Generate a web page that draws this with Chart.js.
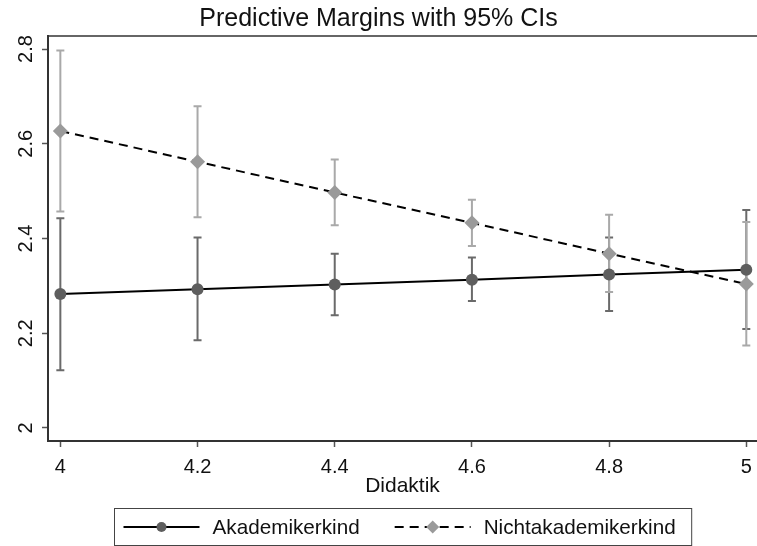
<!DOCTYPE html>
<html>
<head>
<meta charset="utf-8">
<script src="https://cdn.jsdelivr.net/npm/chart.js@4/dist/chart.umd.min.js"></script>
<style>
html,body{margin:0;padding:0;background:#fff;}
#wrap{width:757px;height:546px;position:relative;}
</style>
</head>
<body>
<div id="wrap"><canvas id="c" width="757" height="546"></canvas></div>
<script>
const didaktik = [4, 4.2, 4.4, 4.6, 4.8, 5];
const akadMean = [2.283, 2.293, 2.303, 2.313, 2.324, 2.334];
const akadLow  = [2.122, 2.185, 2.238, 2.268, 2.247, 2.209];
const akadHigh = [2.443, 2.402, 2.368, 2.360, 2.402, 2.460];
const nichtMean = [2.627, 2.562, 2.497, 2.433, 2.368, 2.304];
const nichtLow  = [2.457, 2.445, 2.428, 2.384, 2.287, 2.174];
const nichtHigh = [2.797, 2.679, 2.567, 2.482, 2.450, 2.435];
const xTicks = [4, 4.2, 4.4, 4.6, 4.8, 5];
const yTicks = [2, 2.2, 2.4, 2.6, 2.8];
const seriesLabels = ['Akademikerkind', 'Nichtakademikerkind'];
const titleText = 'Predictive Margins with 95% CIs';
const xTitle = 'Didaktik';

const FONT = "'Liberation Sans', Arial, sans-serif";
const akadCol = '#5e5e5e', akadCI = '#6a6a6a';
const nichtCol = '#9a9a9a', nichtCI = '#a9a9a9';

const ciPlugin = {
  id: 'ci',
  beforeDatasetsDraw(chart) {
    const {ctx, scales: {x, y}} = chart;
    const sets = [[akadLow, akadHigh, akadCI], [nichtLow, nichtHigh, nichtCI]];
    ctx.save();
    ctx.lineWidth = 2;
    sets.forEach(([lo, hi, col]) => {
      ctx.strokeStyle = col;
      didaktik.forEach((d, i) => {
        const px = x.getPixelForValue(d);
        const pl = y.getPixelForValue(lo[i]);
        const ph = y.getPixelForValue(hi[i]);
        ctx.beginPath();
        ctx.moveTo(px, pl); ctx.lineTo(px, ph);
        ctx.moveTo(px - 4, pl); ctx.lineTo(px + 4, pl);
        ctx.moveTo(px - 4, ph); ctx.lineTo(px + 4, ph);
        ctx.stroke();
      });
    });
    ctx.restore();
  },
  afterDraw(chart) {
    const {ctx, chartArea} = chart;
    ctx.save();
    ctx.strokeStyle = '#333';
    ctx.lineWidth = 1.5;
    ctx.beginPath();
    ctx.moveTo(chartArea.left, chartArea.top);
    ctx.lineTo(chartArea.right, chartArea.top);
    ctx.stroke();
    ctx.font = '20.7px ' + FONT;
    const w1 = ctx.measureText(seriesLabels[0]).width;
    const w2 = ctx.measureText(seriesLabels[1]).width;
    const sample = 76, padL = 9, gapT = 13, gapI = 35, padR = 16;
    const boxW = padL + sample + gapT + w1 + gapI + sample + gapT + w2 + padR;
    const cx = (chartArea.left + chartArea.right) / 2;
    const bx = Math.round(cx - boxW / 2) + 0.5;
    const by = 508.5, bh = 37;
    ctx.strokeStyle = '#444';
    ctx.lineWidth = 1;
    ctx.strokeRect(bx, by, boxW, bh);
    const my = by + bh / 2;
    const ds = chart.data.datasets;
    let xx = bx + padL;
    [[w1, 0], [w2, 1]].forEach(([tw, k]) => {
      const d = ds[k];
      ctx.strokeStyle = d.borderColor;
      ctx.lineWidth = 2;
      ctx.setLineDash(d.borderDash || []);
      ctx.beginPath();
      ctx.moveTo(xx, my); ctx.lineTo(xx + sample, my);
      ctx.stroke();
      ctx.setLineDash([]);
      const mx = xx + sample / 2;
      ctx.fillStyle = d.pointBackgroundColor;
      ctx.beginPath();
      if (k === 0) {
        ctx.arc(mx, my, 5, 0, Math.PI * 2);
      } else {
        ctx.moveTo(mx, my - 6.5); ctx.lineTo(mx + 6.5, my);
        ctx.lineTo(mx, my + 6.5); ctx.lineTo(mx - 6.5, my);
        ctx.closePath();
      }
      ctx.fill();
      ctx.fillStyle = '#111';
      ctx.textBaseline = 'middle';
      ctx.textAlign = 'left';
      ctx.fillText(d.label, xx + sample + gapT, my + 1);
      xx += sample + gapT + tw + gapI;
    });
    ctx.restore();
  }
};

new Chart(document.getElementById('c'), {
  type: 'line',
  data: {
    datasets: [
      {
        label: seriesLabels[0],
        data: didaktik.map((d, i) => ({x: d, y: akadMean[i]})),
        borderColor: '#000',
        borderWidth: 2,
        pointStyle: 'circle',
        pointRadius: 6,
        pointBorderWidth: 0,
        pointBackgroundColor: akadCol,
        pointBorderColor: akadCol,
        tension: 0
      },
      {
        label: seriesLabels[1],
        data: didaktik.map((d, i) => ({x: d, y: nichtMean[i]})),
        borderColor: '#000',
        borderWidth: 2,
        borderDash: [9, 6],
        pointStyle: 'rectRot',
        pointRadius: 7.5,
        pointBorderWidth: 0,
        pointBackgroundColor: nichtCol,
        pointBorderColor: nichtCol,
        tension: 0
      }
    ]
  },
  plugins: [ciPlugin],
  options: {
    responsive: false,
    animation: false,
    events: [],
    layout: {autoPadding: false, padding: {left: 0, right: 0, top: 0, bottom: 47}},
    plugins: {
      legend: {display: false},
      tooltip: {enabled: false},
      title: {
        display: true,
        text: titleText,
        color: '#111',
        font: {family: FONT, size: 25, weight: 'normal', lineHeight: 1.2},
        padding: {top: 4.5, bottom: 1.5}
      }
    },
    scales: {
      x: {
        type: 'linear',
        min: 3.982,
        max: 5.0156,
        afterBuildTicks(s) { s.ticks = xTicks.map(v => ({value: v})); },
        afterFit(s) { s.height = 58; s.paddingLeft = 0; s.paddingRight = 0; },
        grid: {display: true, drawOnChartArea: false, drawTicks: true, tickLength: 6, tickColor: '#555', tickWidth: 1.5},
        border: {display: true, color: '#333', width: 2},
        ticks: {
          color: '#111',
          padding: 8,
          maxRotation: 0,
          autoSkip: false,
          font: {family: FONT, size: 20},
          callback: v => String(v)
        },
        title: {
          display: true,
          text: xTitle,
          color: '#111',
          font: {family: FONT, size: 21, lineHeight: 1.2},
          padding: {top: 0, bottom: 0}
        }
      },
      y: {
        type: 'linear',
        min: 1.9725,
        max: 2.8275,
        afterBuildTicks(s) { s.ticks = yTicks.map(v => ({value: v})); },
        afterFit(s) { s.width = 48; s.paddingTop = 0; s.paddingBottom = 0; },
        grid: {display: true, drawOnChartArea: false, drawTicks: true, tickLength: 6, tickColor: '#555', tickWidth: 1.5},
        border: {display: true, color: '#333', width: 2},
        ticks: {
          color: '#111',
          padding: 1.5,
          minRotation: 90,
          maxRotation: 90,
          crossAlign: 'center',
          autoSkip: false,
          font: {family: FONT, size: 20},
          callback: v => String(v)
        }
      }
    }
  }
});
</script>
</body>
</html>
